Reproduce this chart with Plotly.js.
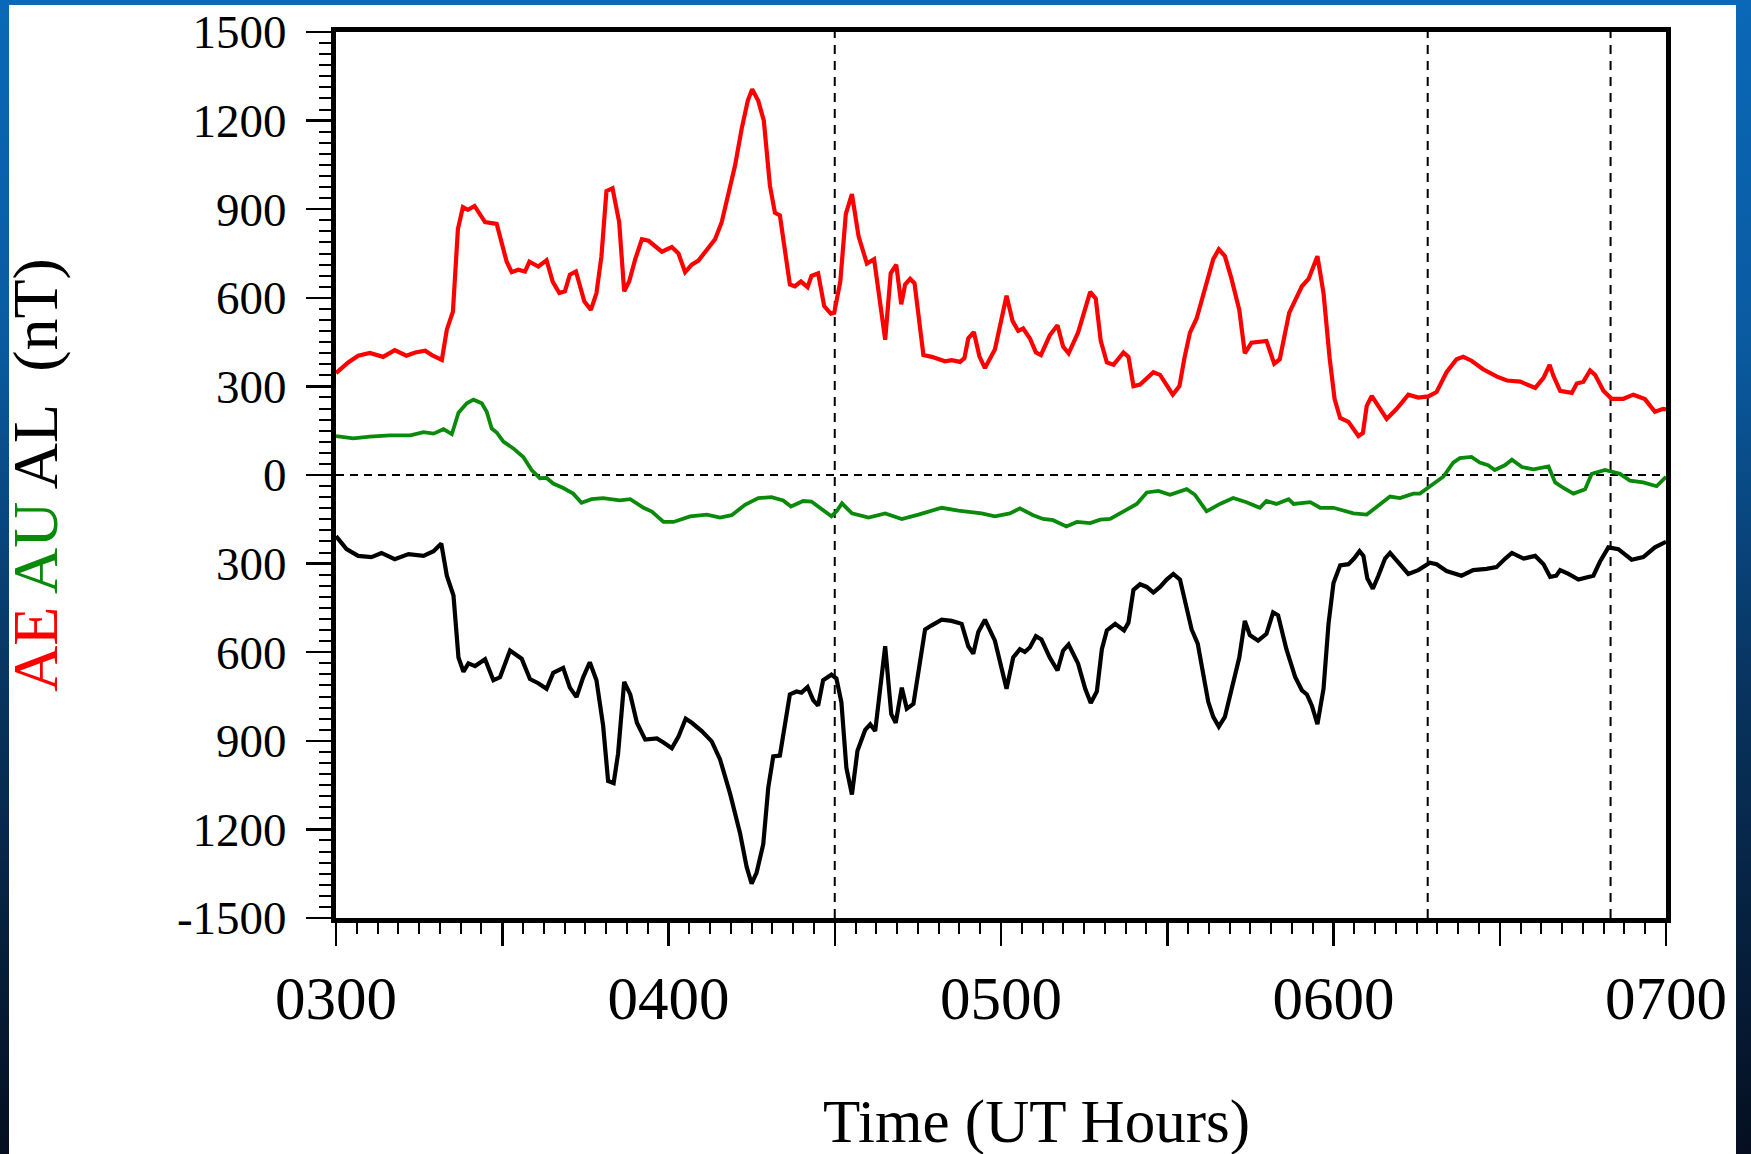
<!DOCTYPE html>
<html><head><meta charset="utf-8">
<script src="https://cdn.plot.ly/plotly-3.0.1.min.js"></script>
<style>
html,body{margin:0;padding:0;width:1751px;height:1154px;overflow:hidden;}
body{background:linear-gradient(to bottom,#0a68b8 0%,#0a5aa0 30%,#08335e 60%,#050f20 100%);position:relative;}
#sheet{position:absolute;left:9px;top:5px;width:1727px;height:1149px;background:#fff;}
#chart{position:absolute;left:0;top:0;width:1751px;height:1154px;}
</style></head><body><div id="sheet"></div><div id="chart"></div>
<script>
// time in minutes after 03:00 UT
const aeTime = [0,2.2,4.0,6.1,8.5,10.6,12.7,14.3,16.1,17.3,19.1,20.0,21.1,22.0,22.9,23.8,25.0,26.9,29.0,30.8,31.7,32.9,34.1,34.9,36.5,38.0,39.1,40.3,41.3,42.2,43.3,44.8,46.0,47.0,47.9,48.8,49.9,51.1,52.0,52.9,54.0,55.2,56.4,57.6,58.8,60.6,61.8,63.0,64.2,65.4,66.9,68.4,69.6,70.8,72.0,73.2,74.3,75.1,76.2,77.2,78.3,79.2,80.1,81.9,82.8,83.9,85.1,85.8,87.0,88.1,89.3,89.9,91.0,92.0,93.1,94.3,95.8,97.1,99.1,100.1,101.1,102.0,102.7,103.6,104.4,106.0,107.5,109.9,111.1,112.6,113.4,114.1,115.1,116.1,117.1,118.9,121.0,122.1,123.1,124.0,125.2,126.3,127.2,128.8,130.2,131.2,132.2,133.9,134.9,136.1,137.1,138.0,139.1,140.3,142.1,143.0,143.9,145.1,147.5,148.7,151.0,152.2,153.1,154.1,155.3,156.8,158.3,159.3,160.4,161.6,163.0,164.0,165.2,167.9,169.3,170.3,172.0,173.1,174.3,175.5,177.1,178.2,179.3,180.2,181.2,182.7,184.5,185.3,186.0,186.9,188.1,189.6,191.4,193.5,195.3,197.1,198.6,200.4,202.2,203.4,204.9,207.0,209.5,211.3,213.7,215.5,216.4,217.9,219.0,219.7,220.9,223.0,223.9,225.1,226.3,227.2,228.7,230.2,232.3,234.1,236.2,238.0,239.5,240];
const aeValues = [345,381,404,413,400,423,404,415,421,406,390,492,553,833,907,898,911,856,850,722,687,695,689,722,706,727,655,616,622,678,689,588,559,616,741,961,971,856,622,655,731,798,793,775,756,772,750,687,712,726,760,798,856,951,1047,1172,1267,1306,1267,1200,980,888,879,645,639,655,636,674,683,572,546,549,655,884,951,808,716,731,458,683,712,578,645,664,649,406,400,385,389,383,396,463,484,402,362,425,607,521,488,496,463,415,406,473,507,435,412,482,540,620,597,454,381,373,415,400,301,306,348,339,272,301,396,482,530,636,731,764,741,664,559,412,448,454,377,392,549,592,639,664,741,616,396,257,193,180,132,142,234,268,234,190,224,272,262,266,281,348,392,400,387,358,333,320,316,304,295,329,373,335,285,278,310,316,354,339,285,258,258,272,257,214,224,222];

const auTime = [0,3.1,6.1,9.7,13.4,15.8,17.6,19.4,20.9,22.1,23.6,24.8,26.3,27.2,28.1,29.0,30.2,32.0,33.8,35.3,36.8,38.0,39.2,41.0,42.8,44.3,46.1,48.2,51.2,53.1,55.5,57.0,59.1,60.9,63.9,66.9,69.3,71.4,73.8,76.2,78.6,80.7,82.1,84.3,85.8,87.6,89.4,90.4,91.3,93.1,96.1,99.1,102.1,105.1,109.3,112.3,116.5,118.9,121.6,123.4,125.8,127.6,129.4,131.8,133.7,136.1,137.9,139.7,142.7,144.5,146.3,148.4,150.5,153.5,155.0,157.1,159.5,161.9,164.3,166.7,167.9,169.7,171.9,172.8,175.8,177.6,180.0,181.2,183.6,186.0,187.8,190.2,192.0,194.4,195.6,197.4,199.8,201.6,202.8,204.9,206.4,207.9,209.1,210.9,212.2,214.0,216.1,218.8,220.0,221.5,223.3,225.4,226.6,229.0,231.7,233.5,235.9,238.3,240];
const auValues = [132,124,130,134,134,145,140,155,138,211,243,255,243,214,157,144,113,90,61,17,-11,-10,-29,-44,-63,-94,-82,-78,-86,-82,-111,-124,-159,-159,-140,-134,-144,-136,-101,-78,-75,-86,-107,-88,-90,-117,-140,-121,-96,-130,-144,-130,-149,-134,-111,-121,-130,-140,-130,-113,-136,-149,-153,-174,-159,-163,-151,-149,-117,-98,-59,-54,-67,-48,-67,-123,-98,-78,-92,-111,-88,-98,-82,-98,-92,-111,-111,-117,-130,-134,-107,-73,-78,-63,-63,-38,-6,42,57,61,42,33,17,33,52,27,19,29,-25,-44,-63,-48,4,17,4,-19,-25,-38,-6];

const alTime = [0,1.9,4.0,6.4,8.2,10.6,13.1,15.8,17.6,19.0,20.0,21.2,22.1,23.0,23.9,25.1,26.9,28.4,29.6,31.4,33.5,35.0,36.5,38.0,39.2,41.0,42.2,43.4,44.6,45.8,47.0,48.2,49.1,50.1,50.9,52.0,53.1,54.3,55.8,57.9,59.1,60.6,61.8,63.1,64.2,66.0,67.8,69.3,71.1,72.9,74.1,75.0,75.9,77.1,78.0,78.9,80.1,81.9,83.1,84.0,85.1,86.1,87.0,87.9,89.4,90.3,91.2,92.1,93.1,94.1,95.5,96.4,97.3,98.2,99.1,100.2,101.0,102.1,103.0,104.2,105.1,106.3,107.5,109.3,111.1,112.9,114.1,115.0,115.9,117.1,118.9,120.1,121.0,122.2,123.4,124.3,125.2,126.3,127.3,128.8,130.2,131.2,132.2,133.9,135.2,136.2,137.3,138.2,139.1,140.6,142.2,143.0,143.9,145.1,146.3,147.5,148.7,149.9,151.1,152.3,153.2,154.4,155.5,156.5,157.4,158.3,159.3,160.4,161.6,163.0,164.0,164.9,166.4,167.9,169.1,170.0,171.5,173.1,174.3,175.2,176.1,177.1,178.2,179.1,180.0,181.2,182.7,183.7,184.7,185.4,186.1,187.1,188.1,189.3,190.2,192.0,193.5,195.3,197.4,198.6,200.4,203.1,205.2,207.6,209.4,211.0,212.2,214.3,216.4,217.9,219.1,220.2,220.9,222.4,224.2,226.9,228.1,229.6,231.4,233.8,235.9,238.0,240];
const alValues = [-207,-251,-274,-278,-264,-285,-268,-274,-258,-232,-341,-408,-618,-666,-638,-647,-624,-695,-685,-594,-622,-691,-705,-724,-670,-653,-720,-752,-685,-634,-695,-848,-1036,-1043,-944,-701,-743,-839,-896,-892,-906,-925,-886,-825,-839,-867,-902,-963,-1078,-1212,-1327,-1384,-1346,-1250,-1059,-953,-950,-743,-733,-737,-718,-762,-781,-695,-676,-689,-770,-992,-1082,-934,-863,-844,-867,-724,-580,-810,-839,-720,-791,-775,-666,-523,-509,-490,-494,-504,-580,-605,-532,-490,-561,-657,-724,-618,-590,-599,-584,-546,-557,-618,-662,-595,-574,-638,-724,-772,-733,-590,-526,-504,-526,-500,-389,-370,-379,-398,-379,-354,-335,-354,-427,-523,-571,-676,-768,-819,-852,-819,-724,-618,-494,-542,-561,-538,-465,-475,-590,-685,-729,-743,-781,-844,-724,-504,-366,-306,-302,-283,-258,-274,-350,-385,-341,-283,-264,-302,-335,-322,-297,-302,-325,-341,-322,-318,-312,-283,-264,-283,-274,-302,-345,-341,-322,-335,-354,-341,-293,-245,-251,-287,-278,-245,-226];

// event markers (minutes after 03:00 UT)
const eventTimes = [90, 197, 230];

const xTickVals = [3, 3.5, 4, 4.5, 5, 5.5, 6, 6.5, 7];
const xTickText = ['0300', '', '0400', '', '0500', '', '0600', '', '0700'];
const yTickVals = [-1500, -1200, -900, -600, -300, 0, 300, 600, 900, 1200, 1500];
const yTickText = ['-1500', '1200', '900', '600', '300', '0', '300', '600', '900', '1200', '1500'];

const toHours = arr => arr.map(m => 3 + m / 60);

const traces = [
  {x: toHours(aeTime), y: aeValues, type: 'scatter', mode: 'lines', name: 'AE', line: {color: '#ff0000', width: 4.2}},
  {x: toHours(auTime), y: auValues, type: 'scatter', mode: 'lines', name: 'AU', line: {color: '#0a8a0a', width: 3.8}},
  {x: toHours(alTime), y: alValues, type: 'scatter', mode: 'lines', name: 'AL', line: {color: '#000000', width: 4.2}}
];

const shapes = [
  {type: 'line', xref: 'paper', x0: 0, x1: 1, yref: 'y', y0: 0, y1: 0, layer: 'below',
   line: {color: '#000', width: 2, dash: '8px,6px'}}
].concat(eventTimes.map(m => ({
  type: 'line', xref: 'x', x0: 3 + m / 60, x1: 3 + m / 60, yref: 'paper', y0: 0, y1: 1, layer: 'below',
  line: {color: '#000', width: 2, dash: '9px,7px'}
})));

const serif = '"Liberation Serif", "Times New Roman", serif';

const layout = {
  width: 1751, height: 1154,
  paper_bgcolor: 'rgba(0,0,0,0)', plot_bgcolor: '#ffffff',
  margin: {l: 336, r: 85, t: 32, b: 236},
  showlegend: false,
  font: {family: serif, color: '#000'},
  xaxis: {
    range: [3, 7], tickmode: 'array', tickvals: xTickVals, ticktext: xTickText,
    ticks: 'outside', ticklen: 23, tickwidth: 2.5, tickcolor: '#000',
    showline: true, mirror: true, linewidth: 5, linecolor: '#000',
    showgrid: false, zeroline: false, tickfont: {size: 61, family: serif},
    ticklabelstandoff: 0,
    minor: {tickmode: 'linear', tick0: 3, dtick: 0.0625, ticks: 'outside', ticklen: 11, tickwidth: 2, tickcolor: '#000', showgrid: false}
  },
  yaxis: {
    range: [-1500, 1500], tickmode: 'array', tickvals: yTickVals, ticktext: yTickText,
    ticks: 'outside', ticklen: 25, tickwidth: 2.5, tickcolor: '#000',
    showline: true, mirror: true, linewidth: 5, linecolor: '#000',
    showgrid: false, zeroline: false, tickfont: {size: 47, family: serif},
    ticklabelstandoff: 10,
    minor: {tickmode: 'linear', tick0: -1500, dtick: 37.5, ticks: 'outside', ticklen: 12, tickwidth: 2, tickcolor: '#000', showgrid: false},
    title: {
      text: '<span style="color:#ff0000">AE</span> <span style="color:#0a8a0a">AU</span> AL\u00a0\u00a0(nT)',
      font: {size: 64, family: serif, color: '#000'}, standoff: 108
    }
  },
  annotations: [{
    text: 'Time (UT Hours)', xref: 'paper', yref: 'paper', x: 0.527, y: -0.23,
    xanchor: 'center', yanchor: 'middle', showarrow: false,
    font: {size: 61, family: serif, color: '#000'}
  }],
  shapes: shapes
};

Plotly.newPlot('chart', traces, layout, {displayModeBar: false, staticPlot: true});
</script></body></html>
